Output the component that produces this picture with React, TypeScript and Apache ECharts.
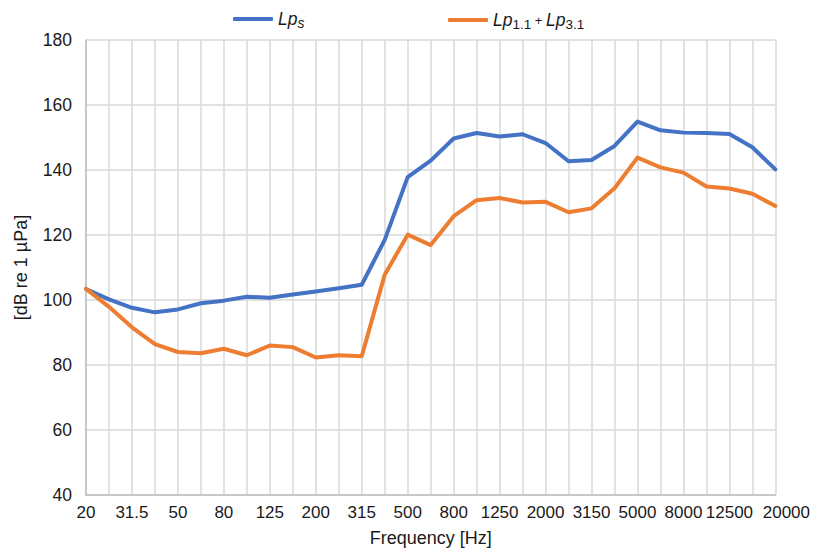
import React, { useEffect, useRef } from "react";
import * as echarts from "echarts";

const frequencies = [
  "20", "25", "31.5", "40", "50", "63", "80", "100", "125", "160", "200", "250",
  "315", "400", "500", "630", "800", "1000", "1250", "1600", "2000", "2500",
  "3150", "4000", "5000", "6300", "8000", "10000", "12500", "16000", "20000",
];

const lpS = [
  103.4, 100.2, 97.6, 96.2, 97.1, 99.0, 99.8, 101.0, 100.7, 101.7, 102.6, 103.6,
  104.7, 118.5, 137.8, 142.9, 149.7, 151.4, 150.3, 151.0, 148.3, 142.7,
  143.1, 147.4, 154.9, 152.2, 151.5, 151.4, 151.1, 147.0, 140.2,
];

const lpSum = [
  103.4, 97.9, 91.6, 86.4, 84.0, 83.6, 85.0, 83.0, 86.0, 85.5, 82.3, 83.0,
  82.7, 107.8, 120.1, 116.9, 125.8, 130.7, 131.4, 130.0, 130.2, 127.0,
  128.2, 134.4, 143.8, 140.8, 139.2, 134.9, 134.3, 132.7, 128.9,
];

const yTicks = { min: 40, max: 180, interval: 20 };

const FONT = "'Liberation Sans', Arial, sans-serif";
const BLUE = "#4472C4";
const ORANGE = "#ED7D31";
const TXT = "#1a1a1a";

export default function App() {
  const ref = useRef<HTMLDivElement>(null);

  useEffect(() => {
    if (!ref.current) return;
    const chart = echarts.init(ref.current, undefined, { renderer: "svg" });
    const rich = {
      i: { fontStyle: "italic", fontSize: 17.5, fontFamily: FONT, color: TXT, lineHeight: 22, verticalAlign: "middle" },
      s: { fontStyle: "italic", fontSize: 14, fontFamily: FONT, color: TXT, lineHeight: 22, verticalAlign: "bottom", padding: [8, 0, 0, 0] },
      n: { fontSize: 13.5, fontFamily: FONT, color: TXT, lineHeight: 22, verticalAlign: "bottom", padding: [9, 0, 0, 0] },
      p: { fontSize: 13, fontFamily: FONT, color: TXT, lineHeight: 22, verticalAlign: "middle" },
    };
    const lastLabel = frequencies[frequencies.length - 1];
    chart.setOption({
      animation: false,
      backgroundColor: "#ffffff",
      textStyle: { fontFamily: FONT },
      legend: [
        {
          data: [{ name: "Lps", icon: "roundRect" }],
          left: 228,
          top: 3,
          itemWidth: 40,
          itemHeight: 4,
          itemGap: 8,
          formatter: () => "{i|Lp}{s|s}",
          textStyle: { rich },
          selectedMode: false,
        },
        {
          data: [{ name: "Lp11", icon: "roundRect" }],
          left: 443,
          top: 3,
          itemWidth: 40,
          itemHeight: 4,
          formatter: () => "{i|Lp}{n|1.1}{p| + }{i|Lp}{n|3.1}",
          textStyle: { rich },
          selectedMode: false,
        },
      ],
      grid: { left: 86, right: 37.5, top: 40, bottom: 61, containLabel: false },
      xAxis: {
        type: "category",
        data: frequencies,
        boundaryGap: false,
        name: "Frequency [Hz]",
        nameLocation: "middle",
        nameGap: 34,
        nameTextStyle: { fontSize: 18, color: TXT, fontFamily: FONT },
        axisLine: { lineStyle: { color: "#bfbfbf", width: 1.5 } },
        axisTick: { show: false },
        axisLabel: {
          interval: 1,
          fontSize: 17,
          color: TXT,
          fontFamily: FONT,
          margin: 9,
          formatter: (v: string) => (v === lastLabel ? `{last|${v}}` : v),
          rich: {
            last: { fontSize: 17, color: TXT, fontFamily: FONT, padding: [0, 0, 0, 22] },
          },
        },
        splitLine: { show: true, interval: 0, lineStyle: { color: "#d9d9d9", width: 1.5 } },
      },
      yAxis: {
        type: "value",
        min: yTicks.min,
        max: yTicks.max,
        interval: yTicks.interval,
        name: "[dB re 1 \u00b5Pa]",
        nameLocation: "middle",
        nameGap: 56,
        nameRotate: 90,
        nameTextStyle: { fontSize: 18, color: TXT, fontFamily: FONT },
        axisLine: { show: true, lineStyle: { color: "#bfbfbf", width: 1.5 } },
        axisTick: { show: false },
        axisLabel: { fontSize: 17.5, color: TXT, fontFamily: FONT, margin: 14 },
        splitLine: { lineStyle: { color: "#d9d9d9", width: 1.5 } },
      },
      series: [
        {
          name: "Lps",
          type: "line",
          data: lpS,
          symbol: "none",
          color: BLUE,
          lineStyle: { color: BLUE, width: 4, cap: "round", join: "round" },
        },
        {
          name: "Lp11",
          type: "line",
          data: lpSum,
          symbol: "none",
          color: ORANGE,
          lineStyle: { color: ORANGE, width: 4, cap: "round", join: "round" },
        },
      ],
    });
    return () => chart.dispose();
  }, []);

  return <div ref={ref} style={{ width: 813, height: 556, position: "absolute", left: 0, top: 0 }} />;
}
